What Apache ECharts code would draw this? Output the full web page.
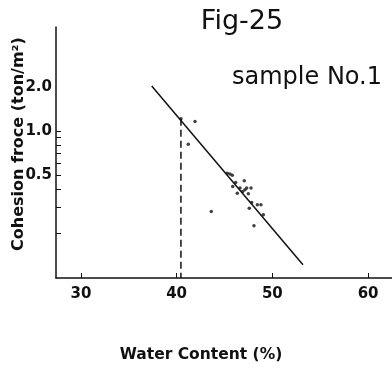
<!DOCTYPE html>
<html><head><meta charset="utf-8">
<script src="https://cdn.jsdelivr.net/npm/echarts@6/dist/echarts.min.js"></script>
<style>html,body{margin:0;padding:0;background:#fff}#c{width:392px;height:368px}</style>
</head><body><div id="c"></div>
<script>
// Tick values
const xTicks = [30, 40, 50, 60];
const yLabelValues = [0.5, 1.0, 2.0];
const yMinorTicks = [0.2, 0.3, 0.4, 0.5, 0.6, 0.7, 0.8, 0.9, 1.0];
// Measured points: water content (%) and cohesion force (ton/m2)
const waterContent = [40.45, 41.92, 41.22, 43.62, 45.29, 45.57, 45.82, 47.07, 46.17, 45.86, 46.62, 47.32, 47.77, 46.34, 46.90, 47.49, 47.14, 47.84, 48.43, 48.81, 47.59, 49.06, 48.08];
const cohesion     = [1.21, 1.16, 0.81, 0.28, 0.513, 0.505, 0.497, 0.455, 0.442, 0.416, 0.405, 0.405, 0.405, 0.374, 0.384, 0.370, 0.394, 0.323, 0.311, 0.311, 0.295, 0.266, 0.224];
// Fitted line end points
const fitX = [37.4, 53.2];
const fitY = [2.03, 0.121];
// Dashed reference line (x, top y)
const refX = 40.45;
const refTopY = 1.21;
const xMin = 27.4, xMax = 62.5, yMin = 0.098, yMax = 5.15;

const chart = echarts.init(document.getElementById('c'), null, {renderer: 'canvas'});
const black = '#111';
chart.setOption({
  animation: false,
  backgroundColor: '#fff',
  grid: {left: 56, right: 0, top: 27, bottom: 90, containLabel: false},
  xAxis: {
    type: 'value', min: xMin, max: xMax,
    splitLine: {show: false},
    axisLine: {lineStyle: {color: black, width: 1.5}},
    axisTick: {show: true, inside: true, length: 5, customValues: xTicks, lineStyle: {color: black, width: 1}},
    axisLabel: {customValues: xTicks, color: black, fontFamily: 'DejaVu Sans', fontWeight: 'bold', fontSize: 15, margin: 9}
  },
  yAxis: [{
    type: 'log', logBase: 10, min: yMin, max: yMax,
    splitLine: {show: false},
    axisLine: {show: true, lineStyle: {color: black, width: 1.5}},
    axisTick: {show: true, inside: true, length: 5, customValues: yMinorTicks, lineStyle: {color: black, width: 1}},
    axisLabel: {customValues: yLabelValues, color: black, fontFamily: 'DejaVu Sans', fontWeight: 'bold', fontSize: 15, margin: 4,
      formatter: v => Number(v).toFixed(1)}
  }],
  series: [
    {type: 'line', data: [[fitX[0], fitY[0]], [fitX[1], fitY[1]]], symbol: 'none',
      lineStyle: {color: black, width: 1.5}},
    {type: 'line', data: [[refX, refTopY], [refX, yMin]], symbol: 'none',
      lineStyle: {color: black, width: 1.5, type: [7, 4]}},
    {type: 'scatter', data: waterContent.map((x, i) => [x, cohesion[i]]), symbol: 'circle', symbolSize: 3.5,
      itemStyle: {color: black}}
  ],
  graphic: [
    {type: 'text', x: 242, y: 22, style: {text: 'Fig-25', font: '27px "DejaVu Sans"', fill: black, align: 'center', verticalAlign: 'middle'}},
    {type: 'text', x: 307, y: 78, style: {text: 'sample No.1', font: '24px "DejaVu Sans"', fill: black, align: 'center', verticalAlign: 'middle'}},
    {type: 'text', x: 19, y: 144, rotation: Math.PI / 2, style: {text: 'Cohesion froce (ton/m²)', font: 'bold 16px "DejaVu Sans"', fill: black, align: 'center', verticalAlign: 'middle'}},
    {type: 'text', x: 201, y: 355, style: {text: 'Water Content (%)', font: 'bold 15.5px "DejaVu Sans"', fill: black, align: 'center', verticalAlign: 'middle'}}
  ]
});
</script></body></html>
